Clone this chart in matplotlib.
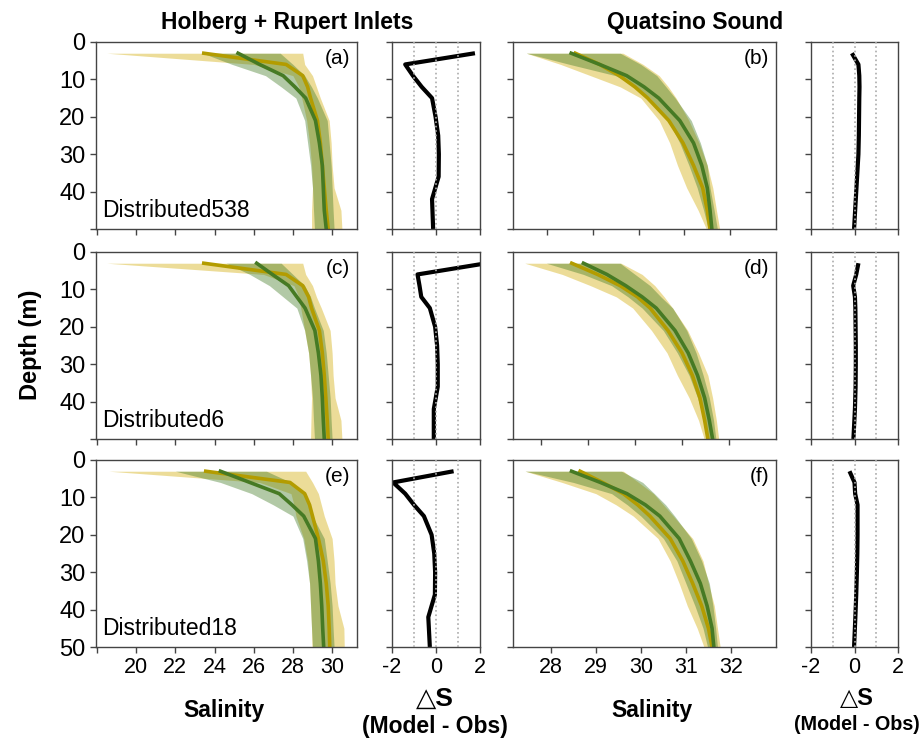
import numpy as np
import matplotlib
matplotlib.use("Agg")
import matplotlib.pyplot as plt

plt.rcParams['font.family'] = ['Liberation Sans', 'DejaVu Sans']
plt.rcParams['axes.unicode_minus'] = False

# depth levels of the profiles (m)
depth = [3, 6, 9, 12, 15, 21, 27, 33, 39, 45, 50]
# depth levels of the difference profiles (m)
ddepth = [3, 6, 9, 12, 15, 20, 25, 30, 36, 42, 50]

# --- Holberg + Rupert Inlets ---
a_obs    = [23.45, 27.65, 28.5, 28.75, 28.9, 29.25, 29.4, 29.5, 29.6, 29.7, 29.8]
a_obs_lo = [18.5, 26.0, 28.0, 28.3, 28.45, 28.7, 28.85, 28.95, 29.0, 28.95, 28.95]
a_obs_hi = [28.5, 28.6, 29.0, 29.2, 29.4, 29.85, 29.95, 30.0, 30.1, 30.45, 30.5]
a_mod    = [25.2, 26.3, 27.5, 28.1, 28.65, 29.15, 29.35, 29.5, 29.55, 29.6, 29.7]
a_mod_lo = [23.4, 24.9, 26.6, 27.4, 28.15, 28.6, 28.75, 28.9, 29.0, 29.05, 29.1]
a_mod_hi = [27.35, 28.0, 28.6, 28.95, 29.25, 29.75, 29.85, 29.95, 30.0, 30.05, 30.1]
a_diff   = [1.77, -1.4, -1.05, -0.65, -0.18, -0.02, 0.1, 0.13, 0.12, -0.18, -0.13]

c_obs    = [23.45, 27.65, 28.5, 28.8, 28.95, 29.35, 29.5, 29.6, 29.68, 29.75, 29.8]
c_obs_lo = [18.5, 26.5, 28.05, 28.3, 28.4, 28.6, 28.8, 28.9, 28.95, 28.92, 28.9]
c_obs_hi = [28.5, 28.65, 29.0, 29.2, 29.45, 29.9, 30.0, 30.05, 30.15, 30.45, 30.5]
c_mod    = [26.15, 26.95, 27.78, 28.2, 28.62, 29.12, 29.3, 29.43, 29.5, 29.55, 29.6]
c_mod_lo = [24.6, 25.8, 26.8, 27.5, 28.2, 28.6, 28.8, 28.9, 29.0, 29.05, 29.1]
c_mod_hi = [27.4, 28.0, 28.6, 28.9, 29.1, 29.55, 29.7, 29.8, 29.9, 29.95, 30.0]
c_diff   = [2.3, -0.84, -0.75, -0.67, -0.28, -0.04, 0.05, 0.08, 0.08, -0.1, -0.1]

e_obs    = [23.55, 27.85, 28.6, 28.85, 29.0, 29.3, 29.55, 29.7, 29.8, 29.85, 29.88]
e_obs_lo = [18.6, 26.3, 27.9, 28.05, 28.15, 28.55, 28.75, 28.85, 28.9, 28.95, 28.97]
e_obs_hi = [28.65, 29.0, 29.3, 29.45, 29.6, 30.0, 30.1, 30.15, 30.3, 30.6, 30.62]
e_mod    = [24.3, 25.8, 27.3, 27.95, 28.55, 29.15, 29.3, 29.4, 29.47, 29.52, 29.57]
e_mod_lo = [22.0, 24.3, 25.9, 27.0, 28.0, 28.5, 28.7, 28.85, 28.9, 28.95, 29.0]
e_mod_hi = [26.65, 27.9, 28.6, 28.8, 29.0, 29.6, 29.75, 29.9, 30.0, 30.05, 30.1]
e_diff   = [0.8, -1.95, -1.4, -1.0, -0.55, -0.2, -0.08, -0.04, -0.05, -0.35, -0.28]

# --- Quatsino Sound ---
b_obs    = [28.62, 29.15, 29.58, 29.92, 30.2, 30.66, 30.97, 31.2, 31.4, 31.5, 31.56]
b_obs_lo = [27.55, 28.3, 28.95, 29.6, 30.05, 30.45, 30.68, 30.85, 31.05, 31.3, 31.48]
b_obs_hi = [29.66, 30.1, 30.45, 30.65, 30.82, 31.1, 31.32, 31.5, 31.62, 31.7, 31.77]
b_mod    = [28.53, 29.15, 29.74, 30.12, 30.44, 30.9, 31.2, 31.38, 31.5, 31.56, 31.6]
b_mod_lo = [27.55, 28.5, 29.5, 29.95, 30.25, 30.65, 30.9, 31.1, 31.28, 31.42, 31.52]
b_mod_hi = [29.6, 30.05, 30.4, 30.6, 30.8, 31.15, 31.35, 31.5, 31.56, 31.65, 31.72]
b_diff   = [-0.12, 0.18, 0.22, 0.23, 0.22, 0.21, 0.2, 0.18, 0.12, 0.06, -0.02]

d_obs    = [28.65, 29.2, 29.68, 30.05, 30.32, 30.7, 31.0, 31.22, 31.38, 31.48, 31.55]
d_obs_lo = [27.65, 28.45, 29.05, 29.6, 29.95, 30.35, 30.68, 30.9, 31.15, 31.35, 31.47]
d_obs_hi = [29.7, 30.15, 30.42, 30.62, 30.8, 31.12, 31.35, 31.55, 31.65, 31.73, 31.78]
d_mod    = [28.9, 29.4, 29.8, 30.15, 30.45, 30.85, 31.13, 31.33, 31.48, 31.58, 31.65]
d_mod_lo = [28.11, 28.9, 29.5, 29.85, 30.15, 30.6, 30.9, 31.15, 31.33, 31.47, 31.55]
d_mod_hi = [29.68, 30.0, 30.32, 30.55, 30.8, 31.1, 31.3, 31.45, 31.58, 31.67, 31.72]
d_diff   = [0.18, 0.08, -0.06, 0.02, 0.04, 0.05, 0.06, 0.06, 0.05, 0.02, -0.05]

f_obs    = [28.65, 29.15, 29.61, 29.93, 30.2, 30.65, 30.93, 31.15, 31.35, 31.5, 31.58]
f_obs_lo = [27.43, 28.25, 29.0, 29.45, 29.83, 30.38, 30.65, 30.85, 31.03, 31.25, 31.4]
f_obs_hi = [29.61, 29.95, 30.28, 30.5, 30.72, 31.15, 31.38, 31.5, 31.63, 31.7, 31.76]
f_mod    = [28.46, 29.1, 29.69, 30.1, 30.42, 30.85, 31.1, 31.32, 31.47, 31.58, 31.62]
f_mod_lo = [27.43, 28.5, 29.35, 29.7, 30.0, 30.5, 30.8, 31.0, 31.2, 31.38, 31.48]
f_mod_hi = [29.57, 30.04, 30.3, 30.55, 30.75, 31.12, 31.35, 31.52, 31.6, 31.66, 31.7]
f_diff   = [-0.23, 0.0, 0.03, 0.14, 0.14, 0.14, 0.13, 0.11, 0.08, 0.04, -0.02]

runs = ['Distributed538', 'Distributed6', 'Distributed18']
left_ticks = [18, 20, 22, 24, 26, 28, 30]
left_ticklabels = ['', '20', '22', '24', '26', '28', '30']
right_ticks = [28, 29, 30, 31, 32]
right_xmin = [27.26, 27.40, 27.16]

gold = '#d6b31c'
gold_line = '#b39c00'
green = '#3f7a22'
green_line = '#467a24'

W, H = 922, 739
fig = plt.figure(figsize=(W / 100, H / 100), dpi=100)

row_top = [42, 252, 460]
row_h = 187
cols = [(96, 261), (392, 88), (513, 263), (811, 87)]


def make_ax(col, row):
    x, w = cols[col]
    y = row_top[row]
    return fig.add_axes([x / W, 1 - (y + row_h) / H, w / W, row_h / H])


def style(ax):
    for s in ax.spines.values():
        s.set_color('#444444')
        s.set_linewidth(1.0)
    ax.tick_params(direction='out', length=4, width=1, color='#444444')
    ax.set_ylim(50, 0)
    ax.set_yticks([0, 10, 20, 30, 40, 50])


def profile(ax, obs, lo_o, hi_o, mod, lo_m, hi_m):
    ax.fill_betweenx(depth, lo_o, hi_o, color=gold, alpha=0.45, lw=0)
    ax.fill_betweenx(depth, lo_m, hi_m, color=green, alpha=0.4, lw=0)
    ax.plot(obs, depth, color=gold_line, lw=2.6)
    ax.plot(mod, depth, color=green_line, lw=2.6)


def diff(ax, vals):
    ax.plot(vals, ddepth, color='black', lw=3, zorder=2, solid_capstyle='butt')
    for v in (-1, 0, 1):
        ax.axvline(v, color='#aaaaaa', ls=':', lw=1.2, zorder=3)
    ax.set_xlim(-2, 2)
    ax.set_xticks([-2, 0, 2])
    ax.set_yticklabels([])


left_data = [
    (a_obs, a_obs_lo, a_obs_hi, a_mod, a_mod_lo, a_mod_hi, a_diff, '(a)'),
    (c_obs, c_obs_lo, c_obs_hi, c_mod, c_mod_lo, c_mod_hi, c_diff, '(c)'),
    (e_obs, e_obs_lo, e_obs_hi, e_mod, e_mod_lo, e_mod_hi, e_diff, '(e)'),
]
right_data = [
    (b_obs, b_obs_lo, b_obs_hi, b_mod, b_mod_lo, b_mod_hi, b_diff, '(b)'),
    (d_obs, d_obs_lo, d_obs_hi, d_mod, d_mod_lo, d_mod_hi, d_diff, '(d)'),
    (f_obs, f_obs_lo, f_obs_hi, f_mod, f_mod_lo, f_mod_hi, f_diff, '(f)'),
]

tick_fs = 15.5
for r in range(3):
    last = r == 2
    # left salinity panel
    ax = make_ax(0, r)
    L = left_data[r]
    profile(ax, *L[:6])
    style(ax)
    ax.set_xlim(17.95, 31.27)
    ax.set_xticks(left_ticks)
    ax.set_xticklabels(left_ticklabels if last else [])
    ylabels = ['0', '10', '20', '30', '40', '50' if last else '']
    ax.set_yticklabels(ylabels)
    ax.tick_params(axis='y', labelsize=17)
    ax.tick_params(axis='x', labelsize=tick_fs)
    ax.text(0.975, 0.965, L[7], transform=ax.transAxes, ha='right', va='top', fontsize=15)
    ax.text(0.022, 0.035, runs[r], transform=ax.transAxes, ha='left', va='bottom', fontsize=16.5)

    ax = make_ax(1, r)
    diff(ax, L[6])
    style(ax)
    ax.set_yticklabels([])
    ax.tick_params(axis='x', labelsize=tick_fs)
    if not last:
        ax.set_xticklabels([])

    # right salinity panel
    ax = make_ax(2, r)
    R = right_data[r]
    profile(ax, *R[:6])
    style(ax)
    ax.set_xlim(right_xmin[r], 33.0)
    ax.set_xticks(right_ticks)
    ax.set_yticklabels([])
    ax.tick_params(axis='x', labelsize=tick_fs)
    if not last:
        ax.set_xticklabels([])
    ax.text(0.975, 0.965, R[7], transform=ax.transAxes, ha='right', va='top', fontsize=15)

    ax = make_ax(3, r)
    diff(ax, R[6])
    style(ax)
    ax.set_yticklabels([])
    ax.tick_params(axis='x', labelsize=tick_fs)
    if not last:
        ax.set_xticklabels([])

fig.text(287 / W, 1 - 22 / H, 'Holberg + Rupert Inlets', ha='center', va='center',
         fontsize=16.5, fontweight='bold')
fig.text(695 / W, 1 - 22 / H, 'Quatsino Sound', ha='center', va='center',
         fontsize=16.5, fontweight='bold')
fig.text(30 / W, 1 - 345 / H, 'Depth (m)', ha='center', va='center', rotation=90,
         fontsize=17, fontweight='bold')
fig.text(224 / W, 1 - 711 / H, 'Salinity', ha='center', va='center',
         fontsize=16.5, fontweight='bold')
fig.text(652 / W, 1 - 711 / H, 'Salinity', ha='center', va='center',
         fontsize=16.5, fontweight='bold')
fig.text(435 / W, 1 - 699 / H, '△S', ha='center', va='center',
         fontsize=19, fontweight='bold')
fig.text(435 / W, 1 - 726 / H, '(Model - Obs)', ha='center', va='center',
         fontsize=16.5, fontweight='bold')
fig.text(857 / W, 1 - 699 / H, '△S', ha='center', va='center',
         fontsize=17, fontweight='bold')
fig.text(857 / W, 1 - 725 / H, '(Model - Obs)', ha='center', va='center',
         fontsize=14.2, fontweight='bold')

fig.savefig('out.png', dpi=100)
